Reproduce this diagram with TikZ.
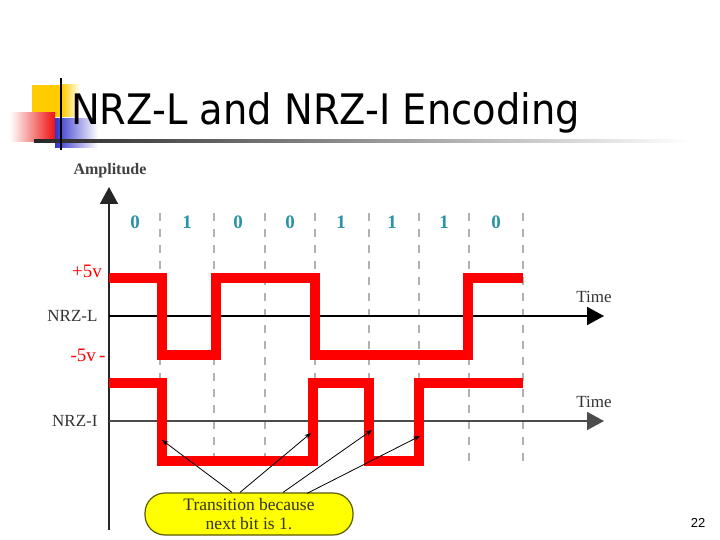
\documentclass[tikz,border=0pt]{standalone}
\usepackage{fontspec}
\setmainfont{Liberation Serif}
\newfontfamily\titlefont{DejaVu Sans}
\newfontfamily\pagefont{Liberation Sans}
\usetikzlibrary{arrows.meta,calc}

\definecolor{bitteal}{HTML}{2A93A8}
\definecolor{sigred}{HTML}{FF0000}
\definecolor{notefill}{HTML}{FFFF00}
\definecolor{noteedge}{HTML}{5A5A00}
\definecolor{decoyellow}{HTML}{FFCC00}
\definecolor{decoblue}{HTML}{3333CC}
\definecolor{decored}{HTML}{EE1111}

\begin{document}
\begin{tikzpicture}[x=1pt,y=-1pt,>=Stealth,
  signal/.style={line width=10pt,sigred,line join=miter},
  gridline/.style={gray!60,line width=1.6pt,dash pattern=on 8pt off 8pt},
  axis/.style={line width=1.8pt,-{Triangle[length=17pt,width=18pt]}},
  lbl/.style={font=\fontsize{17}{19}\selectfont,text=black!80},
  hand/.style={font=\fontsize{19}{21}\selectfont,text=red}]
  \useasboundingbox[fill=white] (0,0) rectangle (720,540);
  % title bar
  \fill[decoyellow] (32,85) rectangle (62,117);
  \shade[left color=decoyellow,right color=white] (62,85) rectangle (80,117);
  \shade[left color=white,right color=decored] (10,113) rectangle (55,142);
  \shade[left color=decoblue,right color=white] (55,119) rectangle (98,148);
  \shade[left color=black!85,right color=white] (34,140) rectangle (690,142.5);
  \draw[line width=2pt] (61,78) -- (61,150);
  \node[anchor=base west,xscale=0.915,font=\titlefont\fontsize{42}{48}\selectfont] (title) at (68,125) {NRZ-L and NRZ-I Encoding};
  % bits
  \foreach \x in {160,214,265,315,369,419,469,523}
    \draw[gridline] (\x,213) -- (\x,467);
  \foreach \x/\b in {135/0,187/1,238/0,290/0,341/1,392/1,444/1,496/0}
    \node[font=\fontsize{19}{21}\selectfont\bfseries,text=bitteal] (bit\x) at (\x,222) {\b};
  % axes
  \draw[axis,black!85] (109,530) -- (109,187);
  \node[font=\fontsize{16}{18}\selectfont\bfseries,text=black!75] (amp) at (110,171) {Amplitude};
  \draw[axis,black] (109,316) -- (604,316);
  \draw[axis,black!70] (109,421) -- (604,421);
  \node[lbl] (timeL) at (594,297) {Time};
  \node[lbl] (timeI) at (594,402) {Time};
  \node[lbl,anchor=east] (nrzl) at (101,316) {NRZ-L};
  \node[lbl,anchor=east] (nrzi) at (101,421) {NRZ-I};
  \node[hand] (pos) at (87,271) {+5v};
  \node[hand] (neg) at (88,355) {-5v\,-};
  % signals
  \draw[signal] (109,278) -- (162,278) -- (162,355) -- (216,355) -- (216,278)
    -- (315,278) -- (315,355) -- (468,355) -- (468,278) -- (523,278);
  \draw[signal] (109,383) -- (162,383) -- (162,461) -- (313,461) -- (313,383)
    -- (369,383) -- (369,461) -- (419,461) -- (419,383) -- (523,383);
  % callout
  \coordinate (t1) at (162,440);
  \coordinate (t2) at (311,433);
  \coordinate (t3) at (372,430);
  \coordinate (t4) at (420,436);
  \node[draw=noteedge,fill=notefill,line width=1.2pt,rounded corners=20pt,
    minimum width=208pt,minimum height=42pt,align=center,text=black!80,
    font=\fontsize{17.5}{19}\selectfont] (note) at (249,514)
    {Transition because\\next bit is 1.};
  \draw[->,line width=0.8pt] ($(note.north)+(-17,0)$) -- (t1);
  \draw[->,line width=0.8pt] ($(note.north)+(-9,0)$) -- (t2);
  \draw[->,line width=0.8pt] ($(note.north)+(34,0)$) -- (t3);
  \draw[->,line width=0.8pt] ($(note.north)+(58,1)$) -- (t4);
  \node[font=\pagefont\fontsize{13}{15}\selectfont] (page) at (698,523) {22};
\end{tikzpicture}
\end{document}
